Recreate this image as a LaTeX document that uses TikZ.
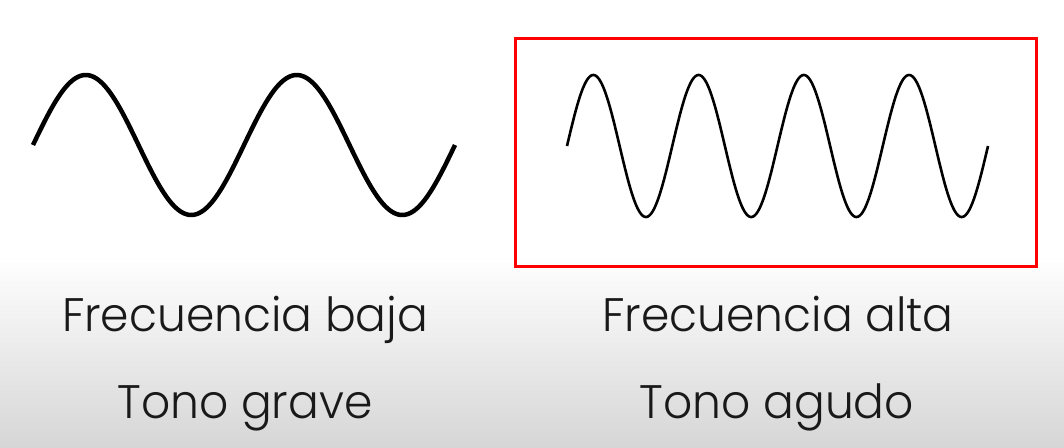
\documentclass[tikz,border=0pt]{standalone}
\usepackage{fontspec}
\setmainfont{Poppins}[UprightFont={* Light}]
\begin{document}
\begin{tikzpicture}[x=1pt,y=-1pt,
  wave/.style={line width=#1, line cap=butt, line join=round},
  label/.style={font=\fontsize{47}{50}\selectfont, text=black!90, inner sep=0pt, anchor=base}]
\useasboundingbox (0,0) rectangle (1064,447);
\fill[white] (0,0) rectangle (1064,447);
\shade[top color=white, bottom color=black!16] (0,255) rectangle (1064,447);
% left wave
\draw[wave=4.5pt, domain=0:720, samples=240, smooth] plot ({33+\x/720*422}, {145-70*sin(\x)});
% right frame
\draw[red, line width=3pt] (515,38) rectangle (1036,266);
% right wave
\draw[wave=2.6pt, domain=0:1440, samples=400, smooth] plot ({567+\x/1440*421}, {146-71*sin(\x)});
\node[label] (fb) at (245,331) {\scalebox{0.97}[1]{Frecuencia baja}};
\node[label] (tg) at (245,418) {\scalebox{0.97}[1]{Tono grave}};
\node[label] (fa) at (778,331) {\scalebox{0.97}[1]{Frecuencia alta}};
\node[label] (ta) at (777,418) {\scalebox{0.97}[1]{Tono agudo}};
\end{tikzpicture}
\end{document}
